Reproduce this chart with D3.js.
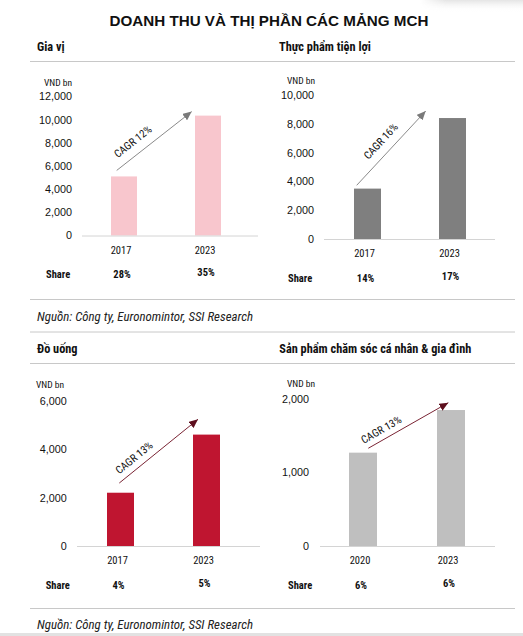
<!DOCTYPE html>
<html>
<head>
<meta charset="utf-8">
<script src="https://cdn.jsdelivr.net/npm/d3@7"></script>
<style>
  html, body { margin: 0; padding: 0; background: #fff; }
  svg { display: block; }
  .nar { font-family: "Liberation Sans Narrow", "Arial Narrow", "Roboto Condensed", sans-serif; }
</style>
</head>
<body>
<svg id="chart" width="523" height="636"></svg>
<script>
// ---------------- DATA ----------------
const mainTitle = "DOANH THU VÀ THỊ PHẦN CÁC MẢNG MCH";
const panelTitles = ["Gia vị", "Thực phẩm tiện lợi", "Đồ uống", "Sản phẩm chăm sóc cá nhân & gia đình"];
const years = [["2017", "2023"], ["2017", "2023"], ["2017", "2023"], ["2020", "2023"]];
const revenue = [[5100, 10350], [3500, 8400], [2200, 4600], [1270, 1850]];
const shares = [["28%", "35%"], ["14%", "17%"], ["4%", "5%"], ["6%", "6%"]];
const cagrLabels = ["CAGR 12%", "CAGR 16%", "CAGR 13%", "CAGR 13%"];
const yMax = [12000, 10000, 6000, 2000];
const yTicks = [
  [0, 2000, 4000, 6000, 8000, 10000, 12000],
  [0, 2000, 4000, 6000, 8000, 10000],
  [0, 2000, 4000, 6000],
  [0, 1000, 2000]
];
const unitLabel = "VND bn";
const shareLabel = "Share";
const sourceText = "Nguồn: Công ty, Euronomintor, SSI Research";

// ---------------- LAYOUT / STYLE ----------------
const barColors = ["#f8c6cd", "#7f7f7f", "#bf1530", "#bfbfbf"];
const arrowColors = ["#8a8a8a", "#8a8a8a", "#7a2434", "#7a2434"];
const headColors = ["#7a7a7a", "#7a7a7a", "#5e0f1e", "#5e0f1e"];
const layout = [
  { y0: 235.5, yTop: 96.5, axX: [82, 258], c: [124, 208], bw: 26, tickX: 72, unitX: 44, unitY: 86,
    a: [5.7, 6, -3.3, 4], tAlong: 30.5, tPerp: 12.5, shareX: 46 },
  { y0: 239, yTop: 95, axX: [324, 495], c: [367.5, 452.5], bw: 27, tickX: 314, unitX: 287, unitY: 84.3,
    a: [2.7, 3.3, -13.3, 7], tAlong: 48.7, tPerp: 12.1, shareX: 288 },
  { y0: 546, yTop: 400.7, axX: [77, 260], c: [120.5, 206.5], bw: 27, tickX: 66.7, unitX: 36, unitY: 387.7,
    a: [12.3, 9.7, 5, 15.3], tAlong: 27.4, tPerp: 10.1, shareX: 45.7 },
  { y0: 546, yTop: 399, axX: [320, 495], c: [363, 451], bw: 28, tickX: 309, unitX: 287, unitY: 387.3,
    a: [19.3, 4.4, 11.3, 7.3], tAlong: 20.4, tPerp: 9.5, shareX: 288 }
];
const titlePos = [[37, 50.7], [279, 50.7], [37, 352.7], [279.3, 352.7]];

const svg = d3.select("#chart");
const defs = svg.append("defs");

// top-right faint shadow
const g1 = defs.append("linearGradient").attr("id", "shadeV").attr("x1", 0).attr("y1", 0).attr("x2", 0).attr("y2", 1);
g1.append("stop").attr("offset", 0).attr("stop-color", "#e4e4e4");
g1.append("stop").attr("offset", 1).attr("stop-color", "#ffffff").attr("stop-opacity", 0);
const g2 = defs.append("linearGradient").attr("id", "shadeMask").attr("x1", 0).attr("y1", 0).attr("x2", 1).attr("y2", 0);
g2.append("stop").attr("offset", 0).attr("stop-color", "#fff").attr("stop-opacity", 0);
g2.append("stop").attr("offset", 0.25).attr("stop-color", "#fff").attr("stop-opacity", 1);
const mask = defs.append("mask").attr("id", "m1");
mask.append("rect").attr("x", 420).attr("y", 0).attr("width", 103).attr("height", 12).attr("fill", "url(#shadeMask)");
svg.append("rect").attr("x", 420).attr("y", 0).attr("width", 103).attr("height", 12)
  .attr("fill", "url(#shadeV)").attr("mask", "url(#m1)");

// bottom gray band
svg.append("rect").attr("x", 0).attr("y", 633).attr("width", 523).attr("height", 3).attr("fill", "#e2e2e2");

// main title
svg.append("text").attr("x", 269).attr("y", 25.5).attr("text-anchor", "middle")
  .style("font-family", "'Liberation Sans', Arial, sans-serif").style("font-weight", "bold").style("font-size", "15.2px")
  .attr("fill", "#111").text(mainTitle);

// separator lines
const sepLines = [61, 299, 331.5, 363, 608];
svg.selectAll("line.sep").data(sepLines).enter().append("line").attr("class", "sep")
  .attr("x1", 30).attr("x2", 515).attr("y1", d => d + 0.5).attr("y2", d => d + 0.5)
  .attr("stroke", "#c8c8c8").attr("stroke-width", 1);

// panel titles
svg.selectAll("text.ptitle").data(panelTitles).enter().append("text").attr("class", "ptitle nar")
  .attr("x", (d, i) => titlePos[i][0]).attr("y", (d, i) => titlePos[i][1])
  .style("font-weight", "bold").style("font-size", "12.3px").attr("fill", "#111").text(d => d);

// source lines
[320.5, 629].forEach(y => {
  svg.append("text").attr("class", "nar").attr("x", 37).attr("y", y)
    .style("font-style", "italic").style("font-size", "12.9px").attr("fill", "#222").text(sourceText);
});

// panels
layout.forEach((L, i) => {
  const g = svg.append("g");
  const y = d3.scaleLinear().domain([0, yMax[i]]).range([L.y0, L.yTop]);
  const step = L.c[1] - L.c[0];
  const p = 1 - L.bw / step;
  const x = d3.scaleBand().domain(years[i]).range([L.c[0] - step / 2, L.c[1] + step / 2])
    .paddingInner(p).paddingOuter(p / 2);

  // y axis labels
  const ax = g.append("g").attr("transform", `translate(${L.tickX},0)`)
    .call(d3.axisLeft(y).tickValues(yTicks[i]).tickSize(0).tickPadding(0).tickFormat(d3.format(",")));
  ax.select(".domain").remove();
  ax.selectAll("text").attr("class", "nar").style("font-size", "10.8px").attr("fill", "#111")
    .style("font-family", "'Liberation Sans Narrow', 'Arial Narrow', sans-serif");

  // unit label
  g.append("text").attr("class", "nar").attr("x", L.unitX).attr("y", L.unitY)
    .style("font-size", "9.5px").attr("fill", "#111").text(unitLabel);

  // bars
  g.selectAll("rect.bar").data(revenue[i]).enter().append("rect").attr("class", "bar")
    .attr("x", (d, j) => x(years[i][j])).attr("width", x.bandwidth())
    .attr("y", d => y(d)).attr("height", d => L.y0 - y(d))
    .attr("fill", barColors[i]);

  // x baseline
  g.append("line").attr("x1", L.axX[0]).attr("x2", L.axX[1]).attr("y1", L.y0 + 0.5).attr("y2", L.y0 + 0.5)
    .attr("stroke", "#d4d4d4").attr("stroke-width", 1);

  // category labels
  g.selectAll("text.cat").data(years[i]).enter().append("text").attr("class", "cat nar")
    .attr("x", d => x(d) + x.bandwidth() / 2 - 3).attr("y", L.y0 + 18).attr("text-anchor", "middle")
    .style("font-size", "10.5px").attr("fill", "#111").text(d => d);

  // share row
  g.append("text").attr("class", "nar").attr("x", L.shareX).attr("y", L.y0 + 42.5)
    .style("font-size", "10.5px").style("font-weight", "bold").attr("fill", "#111").text(shareLabel);
  g.selectAll("text.share").data(shares[i]).enter().append("text").attr("class", "share nar")
    .attr("x", (d, j) => x(years[i][j]) + x.bandwidth() / 2 - 2).attr("y", (d, j) => L.y0 + 42.5 - j * 2)
    .attr("text-anchor", "middle").style("font-size", "10.5px").style("font-weight", "bold")
    .attr("fill", "#111").text(d => d);

  // arrow
  const mid = "ah" + i;
  defs.append("marker").attr("id", mid).attr("markerUnits", "userSpaceOnUse")
    .attr("markerWidth", 10).attr("markerHeight", 8).attr("refX", 9).attr("refY", 4).attr("orient", "auto")
    .append("path").attr("d", "M0,0 L9,4 L0,8 Z").attr("fill", headColors[i]);
  const sx = x(years[i][0]) + L.a[0], sy = y(revenue[i][0]) - L.a[1];
  const ex = x(years[i][1]) + L.a[2], ey = y(revenue[i][1]) - L.a[3];
  g.append("line").attr("x1", sx).attr("y1", sy).attr("x2", ex).attr("y2", ey)
    .attr("stroke", arrowColors[i]).attr("stroke-width", 1).attr("marker-end", `url(#${mid})`);

  // CAGR label
  const dx = ex - sx, dy = ey - sy, len = Math.hypot(dx, dy);
  const ux = dx / len, uy = dy / len;
  const px = uy, py = -ux; // perpendicular (up-left)
  const cx = sx + ux * L.tAlong + px * L.tPerp;
  const cy = sy + uy * L.tAlong + py * L.tPerp;
  const ang = Math.atan2(dy, dx) * 180 / Math.PI;
  g.append("text").attr("class", "nar").attr("text-anchor", "middle").attr("dominant-baseline", "central")
    .attr("transform", `translate(${cx},${cy}) rotate(${ang})`)
    .style("font-size", "10.8px").attr("fill", "#111").text(cagrLabels[i]);
});
</script>
</body>
</html>
